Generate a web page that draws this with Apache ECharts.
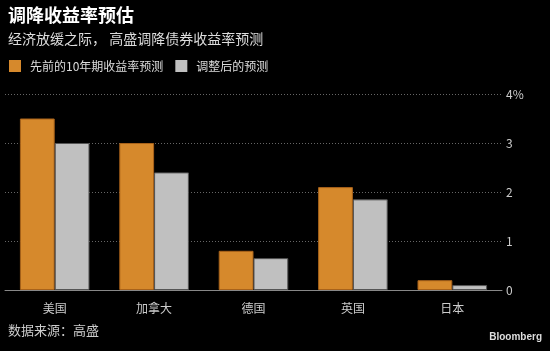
<!DOCTYPE html>
<html><head><meta charset="utf-8">
<script src="https://cdn.jsdelivr.net/npm/echarts@6/dist/echarts.min.js"></script>
<style>html,body{margin:0;padding:0;background:#000;}#c{width:550px;height:351px;}</style>
</head><body><div id="c"></div>
<script>
const categories = ['美国', '加拿大', '德国', '英国', '日本'];
const previousForecast = [3.5, 3.0, 0.8, 2.1, 0.2];
const revisedForecast = [3.0, 2.4, 0.65, 1.85, 0.1];
const seriesNames = ['先前的10年期收益率预测', '调整后的预测'];
const seriesColors = ['#d6892c', '#c0c0c0'];
const yTicks = [0, 1, 2, 3, 4];

const font = '"Noto Sans CJK SC", "Noto Sans", sans-serif';
const chart = echarts.init(document.getElementById('c'));
chart.setOption({
  backgroundColor: '#000',
  animation: false,
  textStyle: { fontFamily: font },
  title: [
    { text: '调降收益率预估', left: 8, top: 6, padding: 0, textStyle: { color: '#fff', fontSize: 18, fontWeight: 'bold', fontFamily: font } },
    { text: '经济放缓之际， 高盛调降债券收益率预测', left: 8, top: 32, padding: 0, textStyle: { color: '#ddd', fontSize: 14, fontWeight: 'normal', fontFamily: font } },
    { text: '数据来源：高盛', left: 8, top: 324, padding: 0, textStyle: { color: '#ccc', fontSize: 13, fontWeight: 'normal', fontFamily: font } },
    { text: 'Bloomberg', right: 8, top: 332, padding: 0, textStyle: { color: '#ddd', fontSize: 10, fontWeight: 'bold', fontFamily: 'Liberation Sans, Arial, sans-serif' } }
  ],
  legend: {
    left: 9, top: 60, padding: 0, itemWidth: 12, itemHeight: 12, itemGap: 12, icon: 'rect',
    textStyle: { color: '#ddd', fontSize: 12, fontFamily: font, padding: [0, 0, 0, 4] },
    data: seriesNames.map((n, i) => ({ name: n, itemStyle: { color: seriesColors[i], borderWidth: 0 } }))
  },
  grid: { left: 5, right: 48, top: 94, bottom: 61 },
  xAxis: {
    type: 'category', data: categories,
    axisLine: { lineStyle: { color: '#888', width: 1 } },
    axisTick: { alignWithLabel: true, length: 4, lineStyle: { color: '#888' } },
    axisLabel: { color: '#ccc', fontSize: 12, margin: 12 }
  },
  yAxis: {
    type: 'value', position: 'right', min: 0, max: 4, interval: 1,
    axisLine: { show: false }, axisTick: { show: false },
    axisLabel: { color: '#ccc', fontSize: 12, margin: 4, align: 'left',
      formatter: v => yTicks.indexOf(v) === yTicks.length - 1 ? v + '%' : String(v) },
    splitLine: { lineStyle: { color: '#666', type: [1, 2], width: 1 } }
  },
  series: [
    { name: seriesNames[0], type: 'bar', data: previousForecast, barGap: '0%', barCategoryGap: '30%',
      itemStyle: { color: seriesColors[0], borderColor: '#a8621a', borderWidth: 1 } },
    { name: seriesNames[1], type: 'bar', data: revisedForecast,
      itemStyle: { color: seriesColors[1], borderColor: '#555', borderWidth: 1 } }
  ]
});
</script></body></html>
